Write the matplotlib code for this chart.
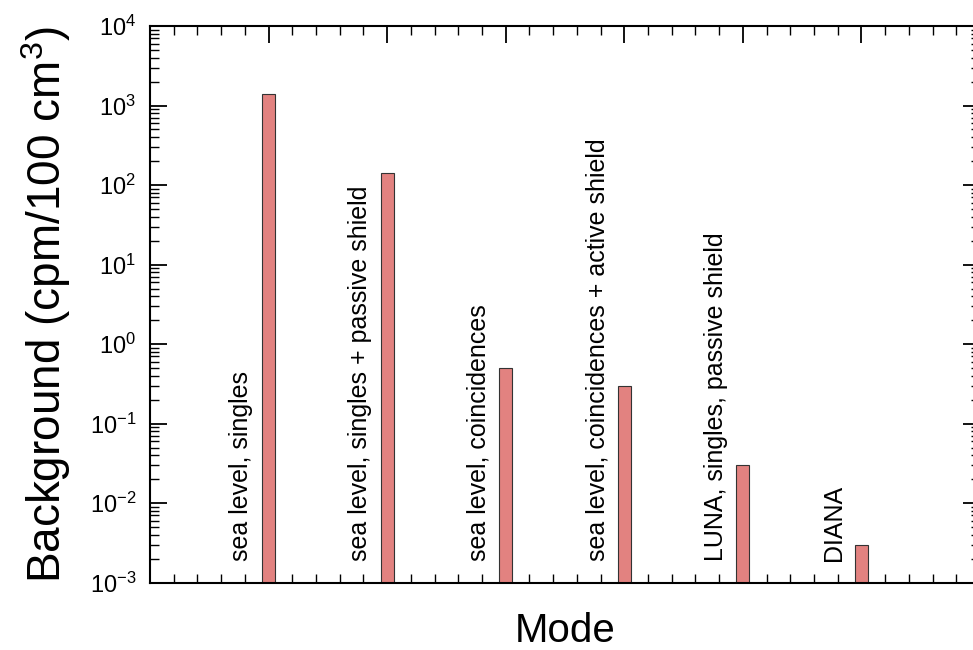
import matplotlib
matplotlib.use("Agg")
import matplotlib.pyplot as plt
from matplotlib.ticker import LogLocator, MultipleLocator, NullFormatter

plt.rcParams['font.family'] = ['Liberation Sans', 'DejaVu Sans']
plt.rcParams['mathtext.fontset'] = 'custom'
plt.rcParams['mathtext.rm'] = 'Liberation Sans'
plt.rcParams['mathtext.it'] = 'Liberation Sans:italic'
plt.rcParams['mathtext.bf'] = 'Liberation Sans:bold'
plt.rcParams['axes.unicode_minus'] = False

# Data
positions = [1, 2, 3, 4, 5, 6]
modes = [
    "sea level, singles",
    "sea level, singles + passive shield",
    "sea level, coincidences",
    "sea level, coincidences + active shield",
    "LUNA, singles, passive shield",
    "DIANA",
]
background = [1400, 140, 0.5, 0.3, 0.03, 0.003]

fig = plt.figure(figsize=(9.73, 6.5), dpi=100)
ax = fig.add_axes([150 / 973, 67.3 / 650, 830 / 973, 556.7 / 650])

ax.set_yscale('log')
ax.bar(positions, background, width=0.11, color='#E28280',
       edgecolor='#333333', linewidth=0.8, zorder=2)

for x, lab in zip(positions, modes):
    ax.text(x - 0.23, 1.85e-3, lab, rotation=90, ha='center', va='bottom',
            fontsize=18, color='black')

ax.set_ylim(1e-3, 1e4)
ax.set_xlim(0, 7)

ax.set_yticks([1e-3, 1e-2, 1e-1, 1e0, 1e1, 1e2, 1e3, 1e4])
ax.yaxis.set_minor_locator(LogLocator(base=10, subs=range(2, 10), numticks=100))
ax.yaxis.set_minor_formatter(NullFormatter())
ax.xaxis.set_major_locator(MultipleLocator(1))
ax.xaxis.set_minor_locator(MultipleLocator(0.2))

ax.tick_params(which='both', direction='in', top=True, right=True, colors='black')
ax.tick_params(which='major', length=12, width=1.3, labelsize=17, pad=10)
ax.tick_params(which='minor', length=6.5, width=1.0)
ax.tick_params(axis='x', which='both', labelbottom=False)

for s in ax.spines.values():
    s.set_linewidth(1.5)

ax.set_ylabel("Background (cpm/100 cm$^3$)", fontsize=33)
ax.yaxis.set_label_coords(-0.093, 0.5)
ax.set_xlabel("Mode", fontsize=29)
ax.xaxis.set_label_coords(0.5, -0.053)

fig.savefig("out.png", dpi=100)
